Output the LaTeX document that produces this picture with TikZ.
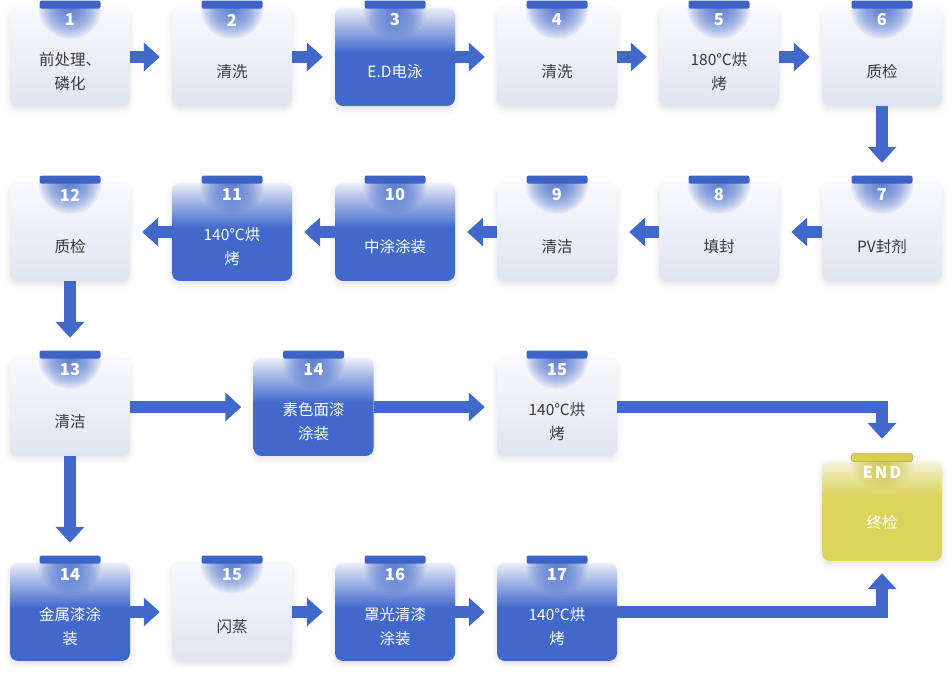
\documentclass[tikz,border=0pt]{standalone}
\usepackage{fontspec}
\setmainfont{Noto Sans CJK SC}
\usetikzlibrary{arrows.meta,shadows.blur}

\definecolor{stageblue}{HTML}{4169CC}
\definecolor{tabblue}{HTML}{3D63C6}
\definecolor{stagepale}{HTML}{EBEEF8}
\colorlet{stagemid}{stageblue!45!stagepale}
\definecolor{lighttop}{HTML}{F8F9FC}
\definecolor{lightbottom}{HTML}{DFE4F1}
\definecolor{labelgray}{HTML}{3A3A3A}
\definecolor{endyellow}{HTML}{DCD35D}
\definecolor{endpale}{HTML}{F6F4DF}
\colorlet{endmid}{endyellow!50!endpale}
\definecolor{endtab}{HTML}{D9CF54}
\definecolor{endglow}{HTML}{CFC544}

\pgfdeclareverticalshading{darkfade}{100bp}{color(0bp)=(stageblue); color(52bp)=(stageblue); color(65bp)=(stagemid); color(75bp)=(stagepale); color(100bp)=(stagepale)}
\pgfdeclareverticalshading{endfade}{100bp}{color(0bp)=(endyellow); color(57bp)=(endyellow); color(67bp)=(endmid); color(75bp)=(endpale); color(100bp)=(endpale)}

\tikzset{
  stagebox/.style={rectangle, rounded corners=8pt, minimum width=120pt, minimum height=98pt, inner sep=0pt,
    blur shadow={shadow xshift=0pt, shadow yshift=-3pt, shadow blur radius=6pt, shadow opacity=12}},
  glow/.style={path picture={\foreach \k in {1,...,15}
    \fill[#1, opacity=0.1] (path picture bounding box.north) ellipse ({2.1*\k pt} and {2.05*\k pt});}},
  tabbar/.style={fill=tabblue, rounded corners=2pt, minimum width=61pt, minimum height=8pt, inner sep=0pt, yshift=-1pt},
  numtxt/.style={text=white, font=\bfseries\fontsize{16.5}{18}\selectfont, yshift=37pt},
  stagetxt/.style={font=\fontsize{15.5}{24}\selectfont, align=center, yshift=-15pt},
  lightstage/.style 2 args={stagebox, top color=lighttop, bottom color=lightbottom, glow=stageblue,
    label={[tabbar]north:}, label={[numtxt]center:#1}, label={[stagetxt, text=labelgray]center:#2}},
  darkstage/.style 2 args={stagebox, shading=darkfade, glow=stageblue,
    label={[tabbar]north:}, label={[numtxt]center:#1}, label={[stagetxt, text=white]center:#2}},
  flow/.style={draw=stageblue, line width=12pt, -{Triangle[width=28pt, length=16pt]}, shorten >=12pt},
}

\begin{document}
\begin{tikzpicture}[x=1pt, y=1pt]
  \useasboundingbox (0,0) rectangle (952,676);
  % first row, left to right
  \node[lightstage={1}{前处理、\\磷化}] (s1)  at (70,619)  {};
  \node[lightstage={2}{清洗}]           (s2)  at (232,619) {};
  \node[darkstage={3}{E.D电泳}]         (s3)  at (395,619) {};
  \node[lightstage={4}{清洗}]           (s4)  at (557,619) {};
  \node[lightstage={5}{180℃烘\\烤}]     (s5)  at (719,619) {};
  \node[lightstage={6}{质检}]           (s6)  at (882,619) {};
  % second row, right to left
  \node[lightstage={7}{PV封剂}]         (s7)  at (882,444) {};
  \node[lightstage={8}{填封}]           (s8)  at (719,444) {};
  \node[lightstage={9}{清洁}]           (s9)  at (557,444) {};
  \node[darkstage={10}{中涂涂装}]       (s10) at (395,444) {};
  \node[darkstage={11}{140℃烘\\烤}]     (s11) at (232,444) {};
  \node[lightstage={12}{质检}]          (s12) at (70,444)  {};
  % third row: solid colour line
  \node[lightstage={13}{清洁}]          (s13) at (70,269)  {};
  \node[darkstage={14}{素色面漆\\涂装}] (s14a) at (313.5,269) {};
  \node[lightstage={15}{140℃烘\\烤}]    (s15a) at (557,269) {};
  % fourth row: metallic line
  \node[darkstage={14}{金属漆涂\\装}]   (s14b) at (70,64)  {};
  \node[lightstage={15}{闪蒸}]          (s15b) at (232,64) {};
  \node[darkstage={16}{罩光清漆\\涂装}] (s16) at (395,64)  {};
  \node[darkstage={17}{140℃烘\\烤}]     (s17) at (557,64)  {};
  % final check
  \node[stagebox, shading=endfade, glow=endglow, minimum height=100pt,
    label={[tabbar, fill=endtab, draw=endtab!80!black, line width=.5pt]north:},
    label={[numtxt, yshift=2pt]center:{\addfontfeature{LetterSpace=12}END}},
    label={[stagetxt, text=white, yshift=3pt]center:终检}] (end) at (882,165) {};

  \draw[flow] (s1) -- (s2);
  \draw[flow] (s2) -- (s3);
  \draw[flow] (s3) -- (s4);
  \draw[flow] (s4) -- (s5);
  \draw[flow] (s5) -- (s6);
  \draw[flow, shorten >=20pt] (s6) -- (s7);
  \draw[flow] (s7) -- (s8);
  \draw[flow] (s8) -- (s9);
  \draw[flow] (s9) -- (s10);
  \draw[flow] (s10) -- (s11);
  \draw[flow] (s11) -- (s12);
  \draw[flow, shorten >=20pt] (s12) -- (s13);
  \draw[flow] (s13) -- (s14a);
  \draw[flow] (s14a) -- (s15a);
  \draw[flow, shorten >=22pt] (s15a) -| (end);
  \draw[flow, shorten >=20pt] (s13) -- (s14b);
  \draw[flow] (s14b) -- (s15b);
  \draw[flow] (s15b) -- (s16);
  \draw[flow] (s16) -- (s17);
  \draw[flow] (s17) -| (end);
\end{tikzpicture}
\end{document}
